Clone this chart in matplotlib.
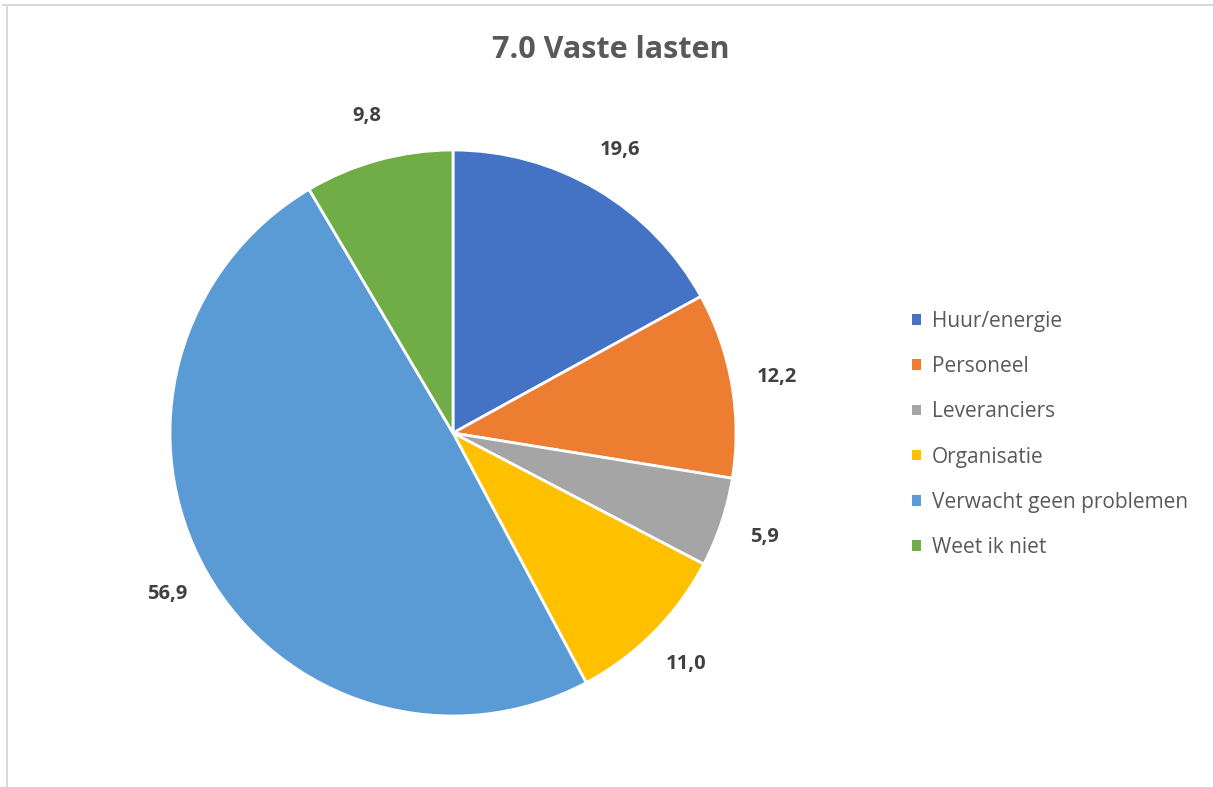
import matplotlib.pyplot as plt
from matplotlib.lines import Line2D

categories = ["Huur/energie", "Personeel", "Leveranciers", "Organisatie",
              "Verwacht geen problemen", "Weet ik niet"]
values = [19.6, 12.2, 5.9, 11.0, 56.9, 9.8]
labels = ["19,6", "12,2", "5,9", "11,0", "56,9", "9,8"]
colors = ["#4472C4", "#ED7D31", "#A5A5A5", "#FFC000", "#5B9BD5", "#70AD47"]
title = "7.0 Vaste lasten"

plt.rcParams['font.family'] = ['Open Sans', 'DejaVu Sans']

W, H = 1213, 787
fig = plt.figure(figsize=(W / 100, H / 100), dpi=100)

# pie axes: centre (453, 433), radius ~283 px
r = 283
cx, cy = 453, 433
ax = fig.add_axes([(cx - r) / W, 1 - (cy + r) / H, 2 * r / W, 2 * r / H])
wedges, texts = ax.pie(values, labels=labels, colors=colors, startangle=90,
                       counterclock=False, labeldistance=1.16,
                       wedgeprops=dict(edgecolor='white', linewidth=2),
                       textprops=dict(fontsize=14.5, fontweight='bold', color='#404040'))
for t in texts:
    t.set_ha('center')
    t.set_va('center')
ax.set_xlim(-1, 1)
ax.set_ylim(-1, 1)
ax.set_aspect('equal')

fig.text(611 / W, 1 - 50 / H, title, ha='center', va='center',
         fontsize=22, fontweight='bold', color='#595959')

leg = fig.legend(wedges, categories, loc='upper left',
                 bbox_to_anchor=(912 / W, 1 - 311 / H), frameon=False,
                 borderpad=0, borderaxespad=0,
                 fontsize=15, labelcolor='#595959', handlelength=0.42,
                 handleheight=0.42, handletextpad=0.55, labelspacing=1.16)
for h in leg.legend_handles:
    h.set_edgecolor('none')

# frame lines of the embedded chart
fig.add_artist(Line2D([3 / W, 1], [1 - 5 / H, 1 - 5 / H], color='#d9d9d9', lw=1.5))
fig.add_artist(Line2D([7 / W, 7 / W], [0, 1 - 5 / H], color='#d9d9d9', lw=1.5))

fig.savefig('out.png', dpi=100)
